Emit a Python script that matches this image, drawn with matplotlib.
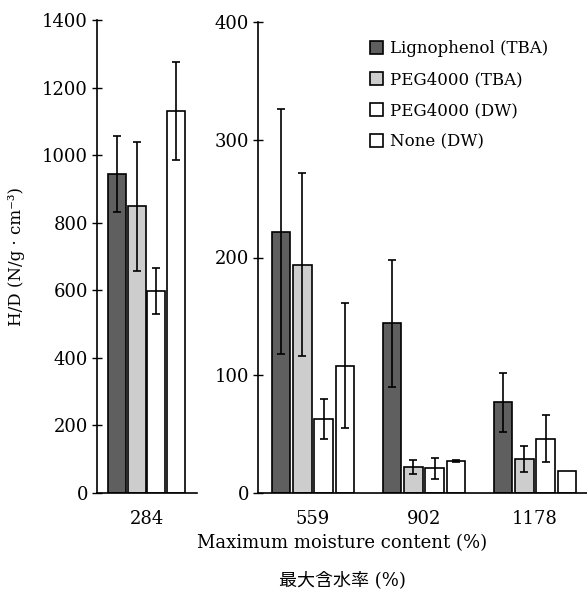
import numpy as np
from matplotlib import pyplot as plt
from matplotlib.ticker import MultipleLocator

plt.rcParams['font.family'] = ['DejaVu Serif', 'Noto Sans CJK JP']

series = ['Lignophenol (TBA)', 'PEG4000 (TBA)', 'PEG4000 (DW)', 'None (DW)']
colors = ['#5f5f5f', '#cdcdcd', 'white', 'white']

left_cats = ['284']
left_vals = [[945], [848], [598], [1130]]
left_errs = [[112], [190], [68], [145]]

right_cats = ['559', '902', '1178']
right_vals = [[222, 144, 77], [194, 22, 29], [63, 21, 46], [108, 27, 19]]
right_errs = [[104, 54, 25], [78, 6, 11], [17, 9, 20], [53, 1, 0]]

W, H = 587, 592
fig = plt.figure(figsize=(W / 100, H / 100), dpi=100)

def px_axes(x0, x1, y_top, y_bot):
    return fig.add_axes([x0 / W, 1 - y_bot / H, (x1 - x0) / W, (y_bot - y_top) / H])

ax_l = px_axes(97, 197, 20, 493)
ax_r = px_axes(258, 587, 22, 493)

def draw(ax, cats, vals, errs, pitch, width):
    x = np.arange(len(cats))
    for i in range(len(series)):
        e = np.array(errs[i], dtype=float)
        ax.bar(x + (i - 1.5) * pitch, vals[i], width=width, color=colors[i],
               edgecolor='black', linewidth=1.2, label=series[i],
               yerr=np.where(e > 0, e, np.nan), capsize=3,
               error_kw=dict(elinewidth=1.2, capthick=1.2, ecolor='black'))
    ax.set_xticks(x)
    ax.set_xticklabels(cats)
    for s in ['top', 'right']:
        ax.spines[s].set_visible(False)
    for s in ['left', 'bottom']:
        ax.spines[s].set_linewidth(1.2)
    ax.tick_params(axis='x', length=0, pad=12, labelsize=13)
    ax.tick_params(axis='y', direction='inout', length=7, width=1, pad=3, labelsize=13)

draw(ax_l, left_cats, left_vals, left_errs, 0.177, 0.162)
ax_l.set_xlim(-0.446, 0.455)
ax_l.set_ylim(0, 1400)
ax_l.yaxis.set_major_locator(MultipleLocator(200))
ax_l.set_ylabel('H/D (N/g · cm⁻³)', fontsize=12)
ax_l.yaxis.set_label_coords(-0.72, 0.5)

draw(ax_r, right_cats, right_vals, right_errs, 0.193, 0.167)
ax_r.set_xlim(-0.495, 2.468)
ax_r.set_ylim(0, 400)
ax_r.yaxis.set_major_locator(MultipleLocator(100))

handles, labels = ax_r.get_legend_handles_labels()
fig.legend(handles, labels, loc='upper left', bbox_to_anchor=(370 / W, 1 - 40 / H),
           frameon=False, fontsize=12, borderpad=0, borderaxespad=0,
           handlelength=0.8, handleheight=0.8, handletextpad=0.4, labelspacing=0.85)

fig.text(342 / W, 1 - 543 / H, 'Maximum moisture content (%)', ha='center', va='center', fontsize=13)
fig.text(342 / W, 1 - 580 / H, '最大含水率 (%)', ha='center', va='center', fontsize=13)

fig.savefig('out.png', dpi=100)
plt.close()
